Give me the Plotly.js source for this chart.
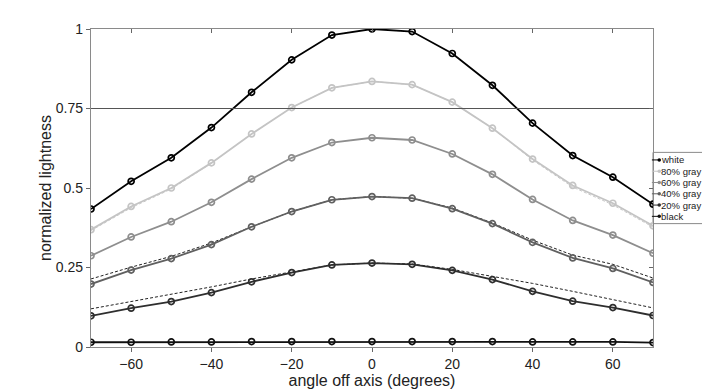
<!DOCTYPE html>
<html>
<head>
<meta charset="utf-8">
<script src="https://cdn.plot.ly/plotly-3.0.1.min.js"></script>
<style>html,body{margin:0;padding:0;background:#fff;}#chart{width:702px;height:390px;}</style>
</head>
<body>
<div id="chart"></div>
<script>
// ---- data ----
const angles = [-70, -60, -50, -40, -30, -20, -10, 0, 10, 20, 30, 40, 50, 60, 70];
const seriesNames = ["white", "80% gray", "60% gray", "40% gray", "20% gray", "black"];
const white  = [0.434, 0.521, 0.595, 0.690, 0.801, 0.903, 0.981, 1.000, 0.992, 0.923, 0.823, 0.704, 0.602, 0.534, 0.449];
const gray80 = [0.369, 0.442, 0.500, 0.579, 0.670, 0.753, 0.815, 0.835, 0.825, 0.770, 0.688, 0.591, 0.508, 0.452, 0.381];
const gray60 = [0.287, 0.346, 0.394, 0.455, 0.528, 0.595, 0.643, 0.658, 0.651, 0.607, 0.543, 0.464, 0.398, 0.352, 0.295];
const gray40 = [0.198, 0.242, 0.278, 0.322, 0.378, 0.426, 0.463, 0.473, 0.468, 0.435, 0.388, 0.329, 0.280, 0.247, 0.203];
const gray20 = [0.098, 0.122, 0.143, 0.171, 0.205, 0.234, 0.258, 0.264, 0.260, 0.241, 0.212, 0.175, 0.144, 0.124, 0.099];
const black  = [0.015, 0.015, 0.016, 0.016, 0.017, 0.017, 0.017, 0.017, 0.017, 0.017, 0.017, 0.016, 0.016, 0.016, 0.014];
// dashed reference curves
const ref80 = [0.366, 0.438, 0.497, 0.578, 0.670, 0.753, 0.815, 0.835, 0.825, 0.770, 0.688, 0.588, 0.503, 0.447, 0.377];
const ref40 = [0.214, 0.251, 0.285, 0.327, 0.378, 0.426, 0.463, 0.473, 0.468, 0.437, 0.390, 0.336, 0.289, 0.260, 0.217];
const ref20 = [0.120, 0.143, 0.165, 0.189, 0.214, 0.237, 0.258, 0.264, 0.261, 0.244, 0.222, 0.200, 0.175, 0.149, 0.123];
const refLevel = 0.75;
const xRange = [-70, 70];
const yRange = [0, 1];
const xTicks = [-60, -40, -20, 0, 20, 40, 60];
const yTicks = [0, 0.25, 0.5, 0.75, 1];
const yTickText = ["0", "0.25", "0.5", "0.75", "1"];

// ---- styles ----
const colors = ["#000000", "#c4c4c4", "#8e8e8e", "#606060", "#2e2e2e", "#111111"];
const seriesData = [white, gray80, gray60, gray40, gray20, black];
const FONT = '"Liberation Sans", Arial, sans-serif';

const traces = [];
// dashed reference lines
[[ref80, "#c8c8c8"], [ref40, "#222222"], [ref20, "#222222"]].forEach(([d, c]) => {
  traces.push({x: angles, y: d, type: "scatter", mode: "lines", showlegend: false, hoverinfo: "skip",
    line: {color: c, width: 1, dash: "3px,2px"}});
});
// main series
seriesData.forEach((d, i) => {
  traces.push({x: angles, y: d, type: "scatter", mode: "lines+markers", name: seriesNames[i], showlegend: false,
    line: {color: colors[i], width: 1.8},
    marker: {symbol: "circle-open", size: 6, color: colors[i], line: {width: 1.7, color: colors[i]}}});
});
// horizontal reference line (on overlay axes, which also draw the top/right frame)
traces.push({x: xRange, y: [refLevel, refLevel], xaxis: "x2", yaxis: "y2", type: "scatter", mode: "lines",
  showlegend: false, hoverinfo: "skip", line: {color: "#555555", width: 1.2}});

// legend emulation
const legIdx = seriesNames.map((_, i) => i);
traces.push({x: legIdx.map(() => 0.3), y: legIdx, xaxis: "x3", yaxis: "y3", type: "scatter", mode: "markers",
  showlegend: false, hoverinfo: "skip", cliponaxis: false,
  marker: {symbol: "line-ew-open", size: 6, color: colors, line: {width: 1, color: colors}}});
traces.push({x: legIdx.map(() => 0.75), y: legIdx, xaxis: "x3", yaxis: "y3", type: "scatter", mode: "markers",
  showlegend: false, hoverinfo: "skip", cliponaxis: false,
  marker: {symbol: "circle", size: 3.5, color: colors}});

const annotations = seriesNames.map((n, i) => ({
  xref: "x3", yref: "y3", x: 1, y: i, text: n, showarrow: false, xanchor: "left", yanchor: "middle",
  xshift: -2, font: {family: FONT, size: 9.5, color: "#222"}
}));

const axisCommon = {showgrid: false, zeroline: false, showline: true, linecolor: "#8a8a8a", linewidth: 1.2,
  tickcolor: "#666", tickwidth: 1, ticklen: 4};

const layout = {
  width: 702, height: 390,
  margin: {l: 91, r: 0, t: 29, b: 43, pad: 0},
  paper_bgcolor: "#ffffff", plot_bgcolor: "#ffffff",
  showlegend: false,
  font: {family: FONT, color: "#222"},
  xaxis: Object.assign({}, axisCommon, {domain: [0, 0.9198], range: xRange, tickvals: xTicks, ticks: "outside",
    tickfont: {size: 14, family: FONT, color: "#222"},
    title: {text: "angle off axis (degrees)", font: {size: 16, family: FONT, color: "#222"}, standoff: 0}}),
  yaxis: Object.assign({}, axisCommon, {range: yRange, tickvals: yTicks, ticktext: yTickText, ticks: "outside",
    tickfont: {size: 14, family: FONT, color: "#222"},
    title: {text: "normalized lightness", font: {size: 16, family: FONT, color: "#222"}, standoff: 0}}),
  xaxis2: Object.assign({}, axisCommon, {overlaying: "x", side: "top", anchor: "y", range: xRange,
    tickvals: xTicks, ticks: "inside", showticklabels: false}),
  yaxis2: Object.assign({}, axisCommon, {overlaying: "y", side: "right", anchor: "x", range: yRange,
    tickvals: yTicks, ticks: "inside", showticklabels: false}),
  xaxis3: {domain: [0.9214, 0.9329], range: [0, 1], visible: false, anchor: "y3", fixedrange: true},
  yaxis3: {domain: [0.3931, 0.6060], range: [5.5, -0.5], visible: false, anchor: "x3", fixedrange: true},
  shapes: [{type: "rect", xref: "paper", yref: "paper", x0: 0.9198, x1: 1.03, y0: 0.388, y1: 0.612,
    line: {color: "#8a8a8a", width: 1}, fillcolor: "#ffffff", layer: "below"}],
  annotations: annotations
};

Plotly.newPlot("chart", traces, layout, {staticPlot: true, displayModeBar: false});
</script>
</body>
</html>
